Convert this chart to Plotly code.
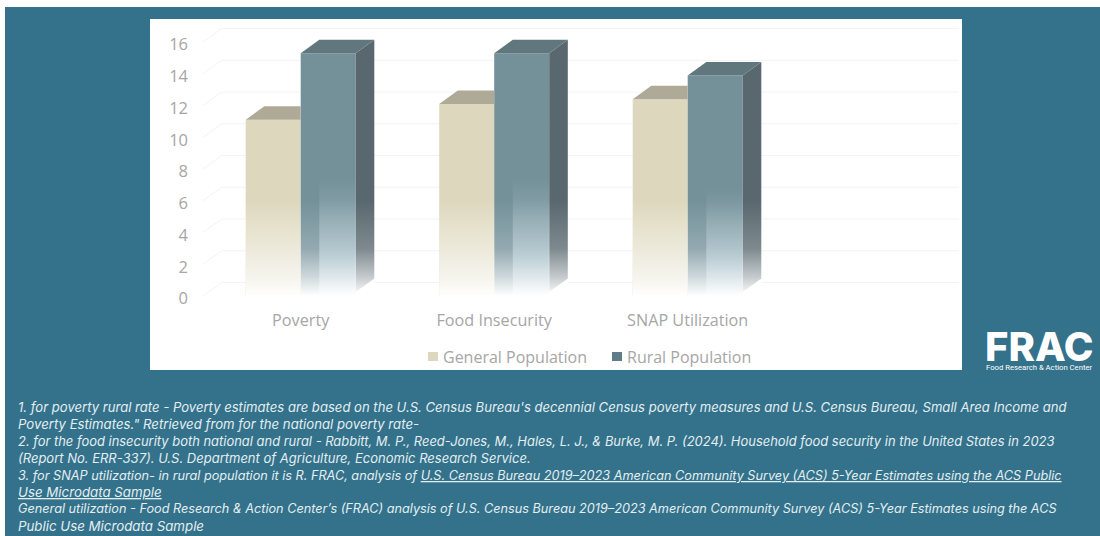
import plotly.graph_objects as go

categories = ["Poverty", "Food Insecurity", "SNAP Utilization"]
general_population = [11.1, 12.1, 12.4]
rural_population = [15.3, 15.3, 13.9]
y_ticks = [0, 2, 4, 6, 8, 10, 12, 14, 16]
series_names = ["General Population", "Rural Population"]
footnotes = [
    "1. for poverty rural rate - Poverty estimates are based on the U.S. Census Bureau's decennial Census poverty measures and U.S. Census Bureau, Small Area Income and",
    "Poverty Estimates.\" Retrieved from for the national poverty rate-",
    "2. for the food insecurity both national and rural - Rabbitt, M. P., Reed-Jones, M., Hales, L. J., & Burke, M. P. (2024). Household food security in the United States in 2023",
    "(Report No. ERR-337). U.S. Department of Agriculture, Economic Research Service.",
    "3. for SNAP utilization- in rural population it is R. FRAC, analysis of <u>U.S. Census Bureau 2019–2023 American Community Survey (ACS) 5-Year Estimates using the ACS Public</u>",
    "<u>Use Microdata Sample</u>",
    "General utilization - Food Research & Action Center’s (FRAC) analysis of U.S. Census Bureau 2019–2023 American Community Survey (ACS) 5-Year Estimates using the ACS",
    "Public Use Microdata Sample",
]
footnote_sizes = [13.1, 13.2, 12.95, 13.0, 12.7, 13.3, 12.7, 13.3]

W, H = 1100, 536
L, R, T, B = 203, 962, 19, 302
PX_X, PX_Y = 193.5, 15.87
BASE = 296
X0 = 300.7
BW = 55 / PX_X
DX, DY = 18.6 / PX_X, 13.5 / PX_Y
TICK_SHIFT = 2.5 / PX_Y
xs = list(range(len(categories)))
x_range = [(L - X0) / PX_X, (R - X0) / PX_X]
y_range = [-(B - BASE) / PX_Y, (BASE - T) / PX_Y]


def px_x(p):
    return (p - L) / (R - L)


def px_y(p):
    return (B - p) / (B - T)


def polygon(name, px, py, color=None, gradient=None, ymin=None, ymax=None):
    kw = {}
    if gradient:
        kw["fillgradient"] = dict(type="vertical", colorscale=gradient, start=ymin, stop=ymax)
    else:
        kw["fillcolor"] = color
    return go.Scatter(x=px + [px[0]], y=py + [py[0]], mode="lines", fill="toself",
                      line=dict(width=0), showlegend=False, hoverinfo="skip", cliponaxis=False,
                      name=name, **kw)


fig = go.Figure()
fig.add_bar(x=xs, y=general_population, width=BW, offset=-BW, marker=dict(color="#ddd8bd", line_width=0),
            name=series_names[0], hoverinfo="skip", showlegend=False)
fig.add_bar(x=xs, y=rural_population, width=BW, offset=0, marker=dict(color="#74919a", line_width=0),
            name=series_names[1], hoverinfo="skip", showlegend=False)

fade_g = [[0, "rgba(255,255,255,1)"], [0.17, "rgba(255,255,255,0.75)"], [0.5, "rgba(255,255,255,0.45)"],
          [0.8, "rgba(255,255,255,0.18)"], [1, "rgba(255,255,255,0)"]]
fade_r = [[0, "rgba(255,255,255,1)"], [0.2, "rgba(255,255,255,0.65)"], [0.5, "rgba(255,255,255,0.22)"],
          [1, "rgba(255,255,255,0)"]]
panel = [[0, "rgba(255,255,255,1)"], [0.12, "rgba(232,239,242,0.9)"], [0.3, "rgba(200,217,224,0.8)"],
         [0.65, "rgba(165,187,195,0.6)"], [1, "rgba(140,165,175,0)"]]
LIP = 0.25

for x, g, r in zip(xs, general_population, rural_population):
    fig.add_trace(polygon("gfade", [x - BW, x, x, x - BW], [-LIP, -LIP, 6, 6], gradient=fade_g, ymin=0, ymax=6))
    fig.add_trace(polygon("gtop", [x - BW, x - BW + DX, x, x], [g, g + DY, g + DY, g], color="#aeaa97"))
    fig.add_trace(polygon("rside", [x + BW, x + BW + DX, x + BW + DX, x + BW], [LIP, DY + LIP, r + DY, r], color="#59686f"))
    fig.add_trace(polygon("rtop", [x, x + DX, x + BW + DX, x + BW], [r, r + DY, r + DY, r], color="#60787d"))
    fig.add_trace(polygon("sfade", [x + BW - 0.005, x + BW + DX + 0.005, x + BW + DX + 0.005, x + BW - 0.005],
                          [-LIP, DY - LIP, 6, 6], gradient=fade_r, ymin=0, ymax=6))
    fig.add_trace(polygon("ffade", [x - 0.002, x + BW, x + BW, x - 0.002], [-LIP, -LIP, 6, 6], gradient=fade_r, ymin=0, ymax=6))
    fig.add_trace(polygon("panel", [x + DX, x + BW, x + BW, x + DX], [-LIP, -LIP, r * 0.49, r * 0.49],
                          gradient=panel, ymin=0, ymax=r * 0.49))

shapes = [
    dict(type="rect", xref="paper", yref="paper", x0=px_x(5), x1=px_x(W), y0=px_y(H), y1=px_y(7),
         fillcolor="#33728a", line_width=0, layer="below"),
    dict(type="rect", xref="paper", yref="paper", x0=px_x(150), x1=px_x(R), y0=px_y(370), y1=px_y(T),
         fillcolor="#ffffff", line_width=0, layer="below"),
    # hand-placed legend swatches
    dict(type="rect", xref="paper", yref="paper", x0=px_x(428), x1=px_x(438), y0=px_y(361), y1=px_y(352),
         fillcolor="#ddd8bd", line_width=0, layer="above"),
    dict(type="rect", xref="paper", yref="paper", x0=px_x(612), x1=px_x(622), y0=px_y(361), y1=px_y(352),
         fillcolor="#5f7d88", line_width=0, layer="above"),
]
for t in y_ticks:
    shapes.append(dict(type="line", x0=x_range[0], x1=x_range[0] + DX, y0=t, y1=t + DY,
                       line=dict(color="#f3f3f3", width=1), layer="below"))
    shapes.append(dict(type="line", x0=x_range[0] + DX, x1=x_range[1] - 3 / PX_X, y0=t + DY, y1=t + DY,
                       line=dict(color="#f3f3f3", width=1), layer="below"))

annotations = []
for i, (line, size) in enumerate(zip(footnotes, footnote_sizes)):
    annotations.append(dict(text=line, xref="paper", yref="paper", xanchor="left", yanchor="middle",
                            x=px_x(16), y=px_y(407 + i * 17), showarrow=False, align="left",
                            font=dict(family="Inter", size=size, color="#e4eef2", style="italic")))
for name, left in zip(series_names, [441, 625]):
    annotations.append(dict(text=name, xref="paper", yref="paper", xanchor="left", yanchor="middle",
                            x=px_x(left), y=px_y(357), showarrow=False,
                            font=dict(family="Open Sans", size=16, color="#a6a6a6")))
annotations.append(dict(text="FRAC", xref="paper", yref="paper", xanchor="left", yanchor="middle",
                        x=px_x(983), y=px_y(346), showarrow=False, height=34,
                        font=dict(family="Inter", size=40, weight=800, color="#ffffff")))
annotations.append(dict(text="Food Research & Action Center", xref="paper", yref="paper", xanchor="left", yanchor="middle",
                        x=px_x(984), y=px_y(367.5), showarrow=False,
                        font=dict(family="Roboto", size=7.7, color="#ffffff")))

fig.update_layout(
    width=W, height=H, autosize=False,
    margin=dict(l=L, r=W - R, t=T, b=H - B, pad=0),
    paper_bgcolor="#ffffff", plot_bgcolor="rgba(0,0,0,0)",
    font=dict(family="Open Sans", color="#a6a6a6"),
    shapes=shapes, annotations=annotations, showlegend=False,
    xaxis=dict(range=x_range, tickvals=xs, ticktext=categories, showgrid=False, zeroline=False,
               showline=False, ticks="", tickfont=dict(size=16.2, color="#a6a6a6"), ticklabelstandoff=7),
    yaxis=dict(range=y_range, tickvals=[t - TICK_SHIFT for t in y_ticks], ticktext=[str(t) for t in y_ticks],
               showgrid=False, zeroline=False, showline=False,
               ticks="", tickfont=dict(size=16.5, color="#a6a6a6"), ticklabelstandoff=14),
)
fig.write_html("out.html", config={"displayModeBar": False},
               post_script="document.body.style.margin='0';document.documentElement.style.overflow='hidden';")
